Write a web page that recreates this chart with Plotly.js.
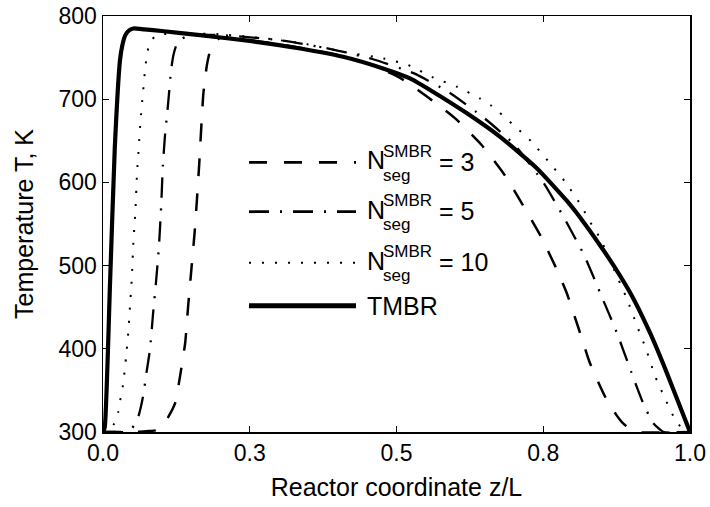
<!DOCTYPE html>
<html>
<head>
<meta charset="utf-8">
<script src="https://cdn.plot.ly/plotly-3.0.1.min.js"></script>
<style>html,body{margin:0;padding:0;background:#fff;}#chart{width:710px;height:507px;}</style>
</head>
<body>
<div id="chart"></div>
<script>
// ---- data ----
const xTickVals = [0, 0.25, 0.5, 0.75, 1];
const xTickText = ['0.0', '0.3', '0.5', '0.8', '1.0'];
const yTickVals = [300, 400, 500, 600, 700, 800];

// N_seg^SMBR = 3 (dashed)
const x3 = [0, 0.05, 0.075, 0.089, 0.1, 0.111, 0.123, 0.131, 0.140, 0.145, 0.151, 0.156, 0.160, 0.164, 0.171, 0.177, 0.182, 0.19, 0.2, 0.25, 0.3, 0.35, 0.4, 0.45, 0.5, 0.525, 0.55, 0.575, 0.6, 0.645, 0.685, 0.715, 0.746, 0.77, 0.79, 0.81, 0.83, 0.855, 0.875, 0.884, 0.895, 0.91, 1.0];
const T3 = [300, 300, 301, 302, 307, 318, 335, 366, 407, 451, 499, 539, 579, 623, 707, 741, 757, 768, 774, 771, 766, 760, 753, 743, 728, 717, 704, 691, 677, 645, 608, 573, 535, 500, 467, 425, 382, 343, 320, 312, 305, 300, 300];

// N_seg^SMBR = 5 (dash-dot)
const x5 = [0, 0.02, 0.04, 0.05, 0.06, 0.068, 0.074, 0.080, 0.085, 0.090, 0.095, 0.099, 0.102, 0.106, 0.109, 0.112, 0.116, 0.12, 0.125, 0.135, 0.15, 0.2, 0.3, 0.39, 0.46, 0.53, 0.59, 0.65, 0.7, 0.75, 0.785, 0.82, 0.85, 0.875, 0.9, 0.92, 0.937, 0.955, 1.0];
const T5 = [300, 300, 300, 305, 318, 342, 371, 399, 440, 478, 520, 570, 620, 660, 680, 703, 735, 753, 765, 773, 777, 777, 771, 760, 748, 731, 708, 677, 646, 600, 558, 512, 462, 420, 372, 335, 311, 300, 300];

// N_seg^SMBR = 10 (dotted)
const x10 = [0, 0.01, 0.019, 0.026, 0.030, 0.034, 0.039, 0.043, 0.046, 0.049, 0.052, 0.055, 0.058, 0.061, 0.064, 0.068, 0.072, 0.075, 0.08, 0.09, 0.1, 0.15, 0.2, 0.25, 0.3, 0.341, 0.409, 0.478, 0.52, 0.563, 0.603, 0.642, 0.662, 0.696, 0.73, 0.759, 0.787, 0.813, 0.835, 0.847, 0.87, 0.892, 0.909, 0.926, 0.94, 0.957, 0.977, 0.991, 1.0];
const T10 = [300, 302, 310, 324, 341, 356, 388, 419, 451, 484, 531, 563, 611, 643, 675, 707, 738, 754, 769, 776, 778, 779, 778, 775, 771, 767, 757, 749, 741, 726, 715, 701, 692, 671, 649, 625, 601, 574, 546, 533, 496, 461, 429, 398, 368, 341, 312, 302, 300];

// TMBR (solid)
const xT = [0, 0.003, 0.012, 0.02, 0.029, 0.033, 0.038, 0.045, 0.052, 0.07, 0.1, 0.165, 0.25, 0.336, 0.409, 0.477, 0.523, 0.562, 0.62, 0.676, 0.739, 0.79, 0.82, 0.852, 0.87, 0.9, 0.932, 0.96, 0.98, 1.0];
const TT = [300, 306, 479, 640, 747, 765, 777, 783, 785, 784, 782, 777, 770, 761, 751, 737, 725, 709, 683, 655, 617, 578, 551, 519, 500, 465, 419, 372, 336, 300];

const segValues = ['3', '5', '10'];
const tmbrLabel = 'TMBR';

// ---- styles ----
const FONT = 'Liberation Sans, Arial, Helvetica, sans-serif';
const dashes = ['18px,17px', '20px,11px,2px,11px', '2px,11px'];
const widths = [2.5, 2.3, 2];

const traces = [
  {x: x3, y: T3, mode: 'lines', line: {color: '#000', width: widths[0], dash: dashes[0], shape: 'spline', smoothing: 0.5}, showlegend: false},
  {x: x5, y: T5, mode: 'lines', line: {color: '#000', width: widths[1], dash: dashes[1], shape: 'spline', smoothing: 0.5}, showlegend: false},
  {x: x10, y: T10, mode: 'lines', line: {color: '#000', width: widths[2], dash: dashes[2], shape: 'spline', smoothing: 0.5}, showlegend: false},
  {x: xT, y: TT, mode: 'lines', line: {color: '#000', width: 4.2, shape: 'spline', smoothing: 0.5}, showlegend: false}
];

// ---- hand-drawn legend (paper coords, plot area 103..690 x 16..432 px) ----
const L = 103, R = 690, TOP = 16, BOT = 432;
const px = v => (v - L) / (R - L);
const py = v => (BOT - v) / (BOT - TOP);
const rowY = [162.3, 211.7, 262.7, 305.7];
const shapes = [];
const annotations = [];
for (let i = 0; i < 4; i++) {
  shapes.push({type: 'line', xref: 'paper', yref: 'paper', x0: px(249), x1: px(356), y0: py(rowY[i]), y1: py(rowY[i]),
    line: {color: '#000', width: i === 3 ? 5 : (i === 2 ? 2 : 2.8), dash: i === 3 ? 'solid' : dashes[i]}});
}
for (let i = 0; i < 3; i++) {
  const y = rowY[i];
  annotations.push({xref: 'paper', yref: 'paper', x: px(365), y: py(y - 2), xanchor: 'left', yanchor: 'middle', showarrow: false, text: 'N', font: {family: FONT, size: 25, color: '#000'}});
  annotations.push({xref: 'paper', yref: 'paper', x: px(381), y: py(y - 11), xanchor: 'left', yanchor: 'middle', showarrow: false, text: 'SMBR', font: {family: FONT, size: 17, color: '#000'}});
  annotations.push({xref: 'paper', yref: 'paper', x: px(381), y: py(y + 13), xanchor: 'left', yanchor: 'middle', showarrow: false, text: 'seg', font: {family: FONT, size: 17, color: '#000'}});
  annotations.push({xref: 'paper', yref: 'paper', x: px(437), y: py(y - 0.5), xanchor: 'left', yanchor: 'middle', showarrow: false, text: '= ' + segValues[i], font: {family: FONT, size: 25, color: '#000'}});
}
annotations.push({xref: 'paper', yref: 'paper', x: px(365), y: py(rowY[3]), xanchor: 'left', yanchor: 'middle', showarrow: false, text: tmbrLabel, font: {family: FONT, size: 25, color: '#000'}});

const axisCommon = {
  showline: true, linecolor: '#000', linewidth: 1.5, mirror: 'ticks',
  ticks: 'inside', ticklen: 6, tickwidth: 1, tickcolor: '#000',
  showgrid: false, zeroline: false,
  tickfont: {family: FONT, size: 23, color: '#000'}
};

const layout = {
  width: 710, height: 507,
  margin: {l: 103, r: 20, t: 16, b: 75, pad: 0},
  paper_bgcolor: '#fff', plot_bgcolor: '#fff',
  font: {family: FONT, color: '#000'},
  showlegend: false,
  xaxis: Object.assign({}, axisCommon, {
    range: [0, 1], tickmode: 'array', tickvals: xTickVals, ticktext: xTickText,
    title: {text: 'Reactor coordinate z/L', font: {family: FONT, size: 25, color: '#000'}, standoff: 13}
  }),
  yaxis: Object.assign({}, axisCommon, {
    range: [300, 800], tickmode: 'array', tickvals: yTickVals,
    title: {text: 'Temperature T, K', font: {family: FONT, size: 25, color: '#000'}, standoff: 18}
  }),
  shapes: shapes,
  annotations: annotations
};

Plotly.newPlot('chart', traces, layout, {displayModeBar: false, staticPlot: true});
</script>
</body>
</html>
